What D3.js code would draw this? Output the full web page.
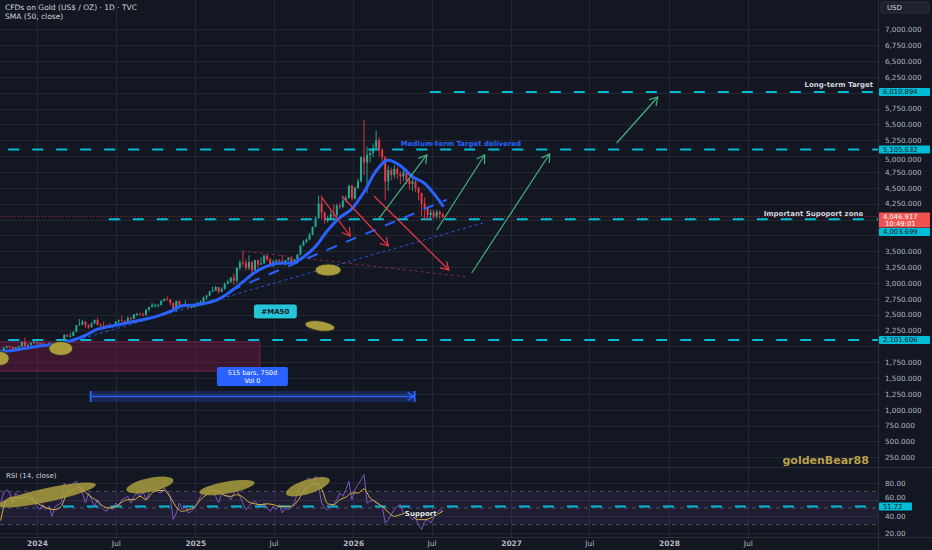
<!DOCTYPE html>
<html>
<head>
<meta charset="utf-8">
<script src="https://cdn.jsdelivr.net/npm/d3@7"></script>
<style>
  body { margin: 0; background: #131722; }
  svg { display: block; font-family: "DejaVu Sans", sans-serif; }
</style>
</head>
<body>
<div id="chart"></div>
<script>
// weekly candles (open = previous close)
var firstWeek = "2023-10-09";
var firstOpen = 1860;
var closes = [1930,1980,2000,1990,1940,1980,2000,2070,2005,2020,2050,2065,
  2045,2050,2030,2020,2040,2025,2015,2035,2080,2180,2155,2165,2230,2330,2345,2390,2335,2300,2360,2415,2335,2325,2295,2330,2320,2325,2390,2410,2400,2385,2445,2430,2505,2510,2500,2495,2580,2620,2655,2655,2655,2720,2745,2735,2685,2565,2715,2650,2635,2650,2620,2620,
  2640,2690,2700,2770,2800,2860,2880,2935,2860,2910,2985,3020,3085,3035,3235,3325,3320,3240,3330,3200,3360,3290,3310,3430,3370,3275,3335,3355,3350,3335,3360,3400,3335,3370,3450,3590,3645,3685,3760,3885,4020,4250,4110,4000,4000,4085,4065,4220,4200,4300,4340,4530,4330,
  4500,4600,4980,4900,5020,5050,5130,5250,5100,4980,4600,4780,4700,4800,4720,4680,4740,4620,4560,4600,4500,4420,4250,4180,4070,4110,4050,4120,4080,4047];
var highs = [1940,1985,2010,2010,1995,1990,2010,2075,2135,2045,2060,2085,
  2075,2060,2055,2040,2065,2045,2030,2040,2090,2195,2185,2220,2235,2335,2430,2420,2395,2350,2380,2425,2450,2365,2390,2340,2365,2335,2395,2425,2480,2410,2475,2460,2510,2530,2530,2530,2585,2625,2685,2670,2670,2725,2760,2790,2750,2690,2720,2720,2665,2725,2665,2640,
  2665,2700,2725,2785,2815,2880,2940,2955,2935,2930,3005,3055,3090,3150,3245,3360,3500,3370,3435,3345,3365,3365,3405,3450,3450,3400,3365,3375,3375,3440,3365,3410,3405,3380,3455,3600,3675,3705,3790,3890,4060,4380,4380,4130,4060,4140,4240,4250,4260,4350,4380,4550,4550,
  4520,4650,5000,5570,5150,5100,5200,5400,5300,5120,5000,4850,4820,4860,4830,4760,4790,4760,4660,4650,4620,4520,4420,4350,4200,4160,4150,4160,4150,4110];
var lows = [1850,1920,1970,1975,1930,1935,1975,1995,1990,1975,2015,2045,
  2015,2010,2000,2005,2015,2015,1985,2010,2025,2075,2145,2145,2160,2225,2325,2330,2290,2280,2295,2350,2325,2320,2285,2290,2315,2295,2320,2350,2395,2355,2385,2365,2430,2475,2490,2475,2485,2550,2615,2605,2615,2640,2705,2725,2645,2540,2565,2605,2630,2630,2585,2600,
  2605,2620,2670,2690,2730,2790,2855,2875,2835,2860,2890,2980,3000,2970,3000,3200,3260,3200,3205,3120,3200,3245,3290,3300,3340,3250,3250,3285,3310,3325,3270,3350,3330,3315,3365,3435,3580,3630,3680,3750,3880,4010,4000,3930,3950,3990,4010,4030,4160,4180,4270,4330,4300,
  4320,4480,4590,4700,4420,4900,4980,5100,5000,4920,4300,4450,4620,4650,4640,4560,4600,4560,4470,4450,4430,4300,4050,4000,3990,3990,4000,4010,4000,4020];

// SMA 50 read every 4th week
var smaWeeks = d3.range(0, 145, 4).concat([146]);
var smaValues = [1916,1936,1968,1998,2020,2055,2100,2173,2272,2313,2353,2391,2430,2480,2550,2640,2652,2684,2745,2866,
  3016,3170,3266,3311,3314,3410,3576,3832,4030,4170,4435,4766,4933,4848,4675,4570,4350,4220];

// RSI (weekly reading) and its MA (every second week)
var rsiValues = [56,68,72,68,56,68,62,60,63,68, 66,58,52,48,54,48,52,40,52,54, 56,80,72,76,80,82,76,68,56,68,
  60,52,60,52,48,46,52,48,56,52, 60,62,64,56,64,68,64,70,60,68, 76,72,69,68,74,70,64,36,44,56,
  48,52,44,46,50,56,64,68,70,76, 72,64,56,68,65,64,60,68,72,64, 56,48,52,56,58,54,52,56,50,46,
  52,48,54,44,50,48,51,56,68,76, 80,84,86,80,88,76,56,50,48,52, 54,60,68,64,72,82,60,72,78,84,
  90,56,58,60,56,54,52,32,36,42, 48,52,54,44,42,40,36,38,30,24, 34,36,32,38,44,48,46];
var rsiMaValues = [35,60,63,62,63,61,56,52,49,48, 52,68,72,75,69,63,58,52,50,52, 57,60,60,64,60,68,71,71,63,51,
  46,48,51,60,66,71,70,65,64,66, 63,57,55,54,55,54,52,52,52,58, 70,77,79,73,55,54,60,63,68,68,
  73,62,57,52,45,40,42,44,40,36, 36,38,42,46];

var priceTicks = d3.range(250, 7001, 250);
var rsiTicks = [80, 60, 40, 20];
var timeTicks = ["2024-01-01","2024-07-01","2025-01-01","2025-07-01","2026-01-01","2026-07-01","2027-01-01","2027-07-01","2028-01-01","2028-07-01"];
var timeLabels = ["2024","Jul","2025","Jul","2026","Jul","2027","Jul","2028","Jul"];

var levelValues = [6010.894, 5105.632, 4003.699, 2101.606];
var levelStarts = ["2026-06-27", "2023-09-01", "2024-06-15", "2023-09-01"];
var lastPrice = 4046.917;
var lastTime = "10:49:01";
var rsiLast = 51.72;
var rsiLevelStart = "2024-03-01";

// drawings, in date / price terms
var redArrows = [["2025-10-21",4340,"2025-12-25",3740],["2025-12-06",4371,"2026-03-23",3583],["2026-02-18",4371,"2026-08-10",3204]];
var greenArrows = [["2026-02-27",3993,"2026-06-20",5018],["2026-07-13",3835,"2026-11-01",5018],["2026-10-02",3157,"2027-03-31",5034],["2027-09-02",5207,"2027-12-06",5932]];
var trendBlue = ["2025-03-22",2877,"2026-08-05",4312];
var trendBlueThin = ["2024-04-02",2100,"2026-10-28",3945];
var trendMaroon = ["2025-04-19",3504,"2026-09-21",3094];
var priceMarkDates = ["2023-10-08","2024-02-25","2025-11-04","2025-10-16"];
var priceMarkValues = [1808,1966,3204,2321];
var rsiMarkDates = ["2024-01-24","2024-09-18","2025-03-15","2025-09-18"];
var rsiMarkValues = [65.6,77.6,74.5,75.5];

var W = 932, H = 550, axisX = 878, paneBottom = 467, rsiBottom = 537;
var parse = d3.utcParse("%Y-%m-%d");

var x = d3.scaleUtc().domain([parse("2024-01-01"), parse("2028-01-01")]).range([37, 669]);
var y = d3.scaleLinear().domain([250, 7000]).range([457.3, 29.3]);
var yr = d3.scaleLinear().domain([20, 80]).range([533, 483]);

var weekDates = closes.map(function(c, i){ return d3.utcDay.offset(parse(firstWeek), 7 * i); });
var candles = closes.map(function(c, i){
  return {d: weekDates[i], o: i ? closes[i-1] : firstOpen, h: highs[i], l: lows[i], c: c};
});

var svg = d3.select("#chart").append("svg").attr("width", W).attr("height", H);
svg.append("rect").attr("width", W).attr("height", H).attr("fill", "#131722");

var defs = svg.append("defs");
defs.append("clipPath").attr("id", "clipP").append("rect")
  .attr("x", 0).attr("y", 0).attr("width", axisX).attr("height", paneBottom);
defs.append("clipPath").attr("id", "clipR").append("rect")
  .attr("x", 0).attr("y", paneBottom).attr("width", axisX).attr("height", rsiBottom - paneBottom);

/* grid */
var grid = svg.append("g").attr("stroke", "#232734").attr("stroke-width", 1);
grid.selectAll(".hp").data(priceTicks).join("line")
  .attr("x1", 0).attr("x2", axisX)
  .attr("y1", function(d){ return Math.round(y(d)) + 0.5; })
  .attr("y2", function(d){ return Math.round(y(d)) + 0.5; });
grid.selectAll(".hr").data(rsiTicks).join("line")
  .attr("x1", 0).attr("x2", axisX)
  .attr("y1", function(d){ return Math.round(yr(d)) + 0.5; })
  .attr("y2", function(d){ return Math.round(yr(d)) + 0.5; });
grid.selectAll(".v").data(timeTicks).join("line")
  .attr("x1", function(d){ return Math.round(x(parse(d))) + 0.5; })
  .attr("x2", function(d){ return Math.round(x(parse(d))) + 0.5; })
  .attr("y1", 0).attr("y2", rsiBottom);

/* pane borders */
svg.append("line").attr("x1", 0).attr("x2", W).attr("y1", paneBottom + 0.5).attr("y2", paneBottom + 0.5).attr("stroke", "#2a2e39");
svg.append("line").attr("x1", 0).attr("x2", W).attr("y1", rsiBottom + 0.5).attr("y2", rsiBottom + 0.5).attr("stroke", "#2a2e39");
svg.append("line").attr("x1", axisX + 0.5).attr("x2", axisX + 0.5).attr("y1", 0).attr("y2", H).attr("stroke", "#2a2e39");

/* ---------- price pane ---------- */
var pane = svg.append("g").attr("clip-path", "url(#clipP)");

// red box zone under the 2024 base
pane.append("rect")
  .attr("x", x(parse("2023-09-01"))).attr("y", y(2069))
  .attr("width", x(parse("2025-05-30")) - x(parse("2023-09-01")))
  .attr("height", y(1611) - y(2069))
  .attr("fill", "rgba(150,25,75,0.32)").attr("stroke", "#7c2349").attr("stroke-width", 1);

// date range measure
var r0 = x(parse("2024-05-04")), r1 = x(parse("2026-05-23")), ry = y(1209);
pane.append("rect").attr("x", r0).attr("y", ry - 5.5).attr("width", r1 - r0).attr("height", 11)
  .attr("fill", "rgba(41,98,255,0.22)");
var rg = pane.append("g").attr("stroke", "#2962ff").attr("stroke-width", 1.5).attr("fill", "none");
rg.append("line").attr("x1", r0).attr("x2", r1).attr("y1", ry).attr("y2", ry);
rg.append("line").attr("x1", r0).attr("x2", r0).attr("y1", ry - 5.5).attr("y2", ry + 5.5).attr("stroke-width", 2);
rg.append("line").attr("x1", r1).attr("x2", r1).attr("y1", ry - 5.5).attr("y2", ry + 5.5).attr("stroke-width", 2);
rg.append("path").attr("d", "M" + (r1 - 7) + "," + (ry - 4) + "L" + (r1 - 1) + "," + ry + "L" + (r1 - 7) + "," + (ry + 4));

// horizontal levels
pane.selectAll(".lvl").data(levelValues).join("line")
  .attr("x1", function(d, i){ return x(parse(levelStarts[i])); })
  .attr("x2", axisX)
  .attr("y1", function(d){ return y(d); }).attr("y2", function(d){ return y(d); })
  .attr("stroke", "#00bcd4").attr("stroke-width", 2).attr("stroke-dasharray", "11,13");

// last price line
pane.append("line").attr("x1", 0).attr("x2", axisX).attr("y1", y(lastPrice)).attr("y2", y(lastPrice))
  .attr("stroke", "#f23645").attr("stroke-opacity", 0.6).attr("stroke-dasharray", "1,2");

function seg(a, col, w, dash, op){
  pane.append("line")
    .attr("x1", x(parse(a[0]))).attr("y1", y(a[1]))
    .attr("x2", x(parse(a[2]))).attr("y2", y(a[3]))
    .attr("stroke", col).attr("stroke-width", w).attr("stroke-dasharray", dash).attr("stroke-opacity", op);
}
seg(trendBlueThin, "#2962ff", 1, "3,3", 0.85);
seg(trendMaroon, "#8c2a4f", 1, "3,3", 0.9);

// candles
var cg = pane.append("g");
cg.selectAll(".wick").data(candles).join("line")
  .attr("x1", function(d){ return x(d.d); }).attr("x2", function(d){ return x(d.d); })
  .attr("y1", function(d){ return y(d.h); }).attr("y2", function(d){ return y(d.l); })
  .attr("stroke", function(d){ return d.c >= d.o ? "#22ab94" : "#f23645"; })
  .attr("stroke-width", 0.9);
cg.selectAll(".body").data(candles).join("rect")
  .attr("x", function(d){ return x(d.d) - 1; })
  .attr("y", function(d){ return y(Math.max(d.o, d.c)); })
  .attr("width", 2)
  .attr("height", function(d){ return Math.max(1, Math.abs(y(d.o) - y(d.c))); })
  .attr("fill", function(d){ return d.c >= d.o ? "#22ab94" : "#f23645"; });

// SMA 50
pane.append("path")
  .datum(smaWeeks.map(function(w, i){ return [weekDates[w], smaValues[i]]; }))
  .attr("fill", "none").attr("stroke", "#2962ff").attr("stroke-width", 3).attr("stroke-linecap", "round")
  .attr("d", d3.line().curve(d3.curveMonotoneX)
    .x(function(d){ return x(d[0]); }).y(function(d){ return y(d[1]); }));

seg(trendBlue, "#2962ff", 2, "11,10", 1);

// arrows
function arrow(a, col){
  var x1 = x(parse(a[0])), y1 = y(a[1]), x2 = x(parse(a[2])), y2 = y(a[3]);
  var ang = Math.atan2(y2 - y1, x2 - x1), L = 9;
  var g = pane.append("g").attr("stroke", col).attr("stroke-width", 1.2).attr("fill", "none");
  g.append("line").attr("x1", x1).attr("y1", y1).attr("x2", x2).attr("y2", y2);
  g.append("path").attr("d",
    "M" + (x2 + L * Math.cos(ang + 2.6)) + "," + (y2 + L * Math.sin(ang + 2.6)) +
    "L" + x2 + "," + y2 +
    "L" + (x2 + L * Math.cos(ang - 2.6)) + "," + (y2 + L * Math.sin(ang - 2.6)));
}
redArrows.forEach(function(a){ arrow(a, "#f23645"); });
greenArrows.forEach(function(a){ arrow(a, "#43b07e"); });

// marked ellipses
var markSize = [[9,7,0],[12,7,0],[13,6,0],[15,5,8]];
priceMarkDates.forEach(function(d, i){
  var cx = x(parse(d)), cy = y(priceMarkValues[i]);
  pane.append("ellipse").attr("cx", cx).attr("cy", cy)
    .attr("rx", markSize[i][0]).attr("ry", markSize[i][1])
    .attr("transform", "rotate(" + markSize[i][2] + "," + cx + "," + cy + ")")
    .attr("fill", "#a99c3d").attr("stroke", "#2e2d22").attr("stroke-width", 1);
});

// labels in the price pane
var ma = pane.append("g").attr("transform", "translate(" + x(parse("2025-07-05")) + "," + y(2550) + ")");
ma.append("rect").attr("x", -22).attr("y", -7.5).attr("width", 44).attr("height", 15).attr("rx", 3)
  .attr("fill", "#26c6da").attr("stroke", "#0b0e14").attr("stroke-width", 1);
ma.append("text").attr("text-anchor", "middle").attr("y", 2.5).attr("font-size", 7).attr("font-weight", "bold")
  .attr("fill", "#131722").text("#MA50");

var bx = pane.append("g").attr("transform", "translate(" + x(parse("2025-05-13")) + "," + y(1525) + ")");
bx.append("rect").attr("x", -35.5).attr("y", -9.5).attr("width", 71).attr("height", 19).attr("rx", 2).attr("fill", "#2962ff");
bx.append("text").attr("text-anchor", "middle").attr("y", -1.5).attr("font-size", 6.5).attr("fill", "#ffffff").text("515 bars, 750d");
bx.append("text").attr("text-anchor", "middle").attr("y", 6.5).attr("font-size", 6.5).attr("fill", "#ffffff").text("Vol 0");

pane.append("text").attr("x", x(parse("2029-04-17"))).attr("y", y(levelValues[0]) - 5)
  .attr("text-anchor", "end").attr("font-size", 7).attr("font-weight", "bold").attr("fill", "#d1d4dc").text("Long-term Target");
pane.append("text").attr("x", x(parse("2026-04-21"))).attr("y", y(levelValues[1]) - 3.5)
  .attr("font-size", 7).attr("font-weight", "bold").attr("fill", "#2962ff").text("Medium-term Target delivered");
pane.append("text").attr("x", x(parse("2029-03-25"))).attr("y", y(levelValues[2]) - 3)
  .attr("text-anchor", "end").attr("font-size", 7).attr("font-weight", "bold").attr("fill", "#d1d4dc").text("Important Supoport zone");
pane.append("text").attr("x", x(parse("2029-04-07"))).attr("y", y(145))
  .attr("text-anchor", "end").attr("font-size", 11).attr("font-weight", "bold").attr("fill", "#b9a04c").text("goldenBear88");

/* ---------- RSI pane ---------- */
var rp = svg.append("g").attr("clip-path", "url(#clipR)");
rp.append("rect").attr("x", 0).attr("width", axisX).attr("y", yr(70)).attr("height", yr(30) - yr(70))
  .attr("fill", "rgba(126,87,194,0.1)");
rp.selectAll(".band").data([70, 50, 30]).join("line")
  .attr("x1", 0).attr("x2", axisX)
  .attr("y1", function(d){ return yr(d); }).attr("y2", function(d){ return yr(d); })
  .attr("stroke", "#787b86").attr("stroke-opacity", 0.55).attr("stroke-dasharray", "4,4");
rp.append("line").attr("x1", x(parse(rsiLevelStart))).attr("x2", axisX).attr("y1", yr(rsiLast)).attr("y2", yr(rsiLast))
  .attr("stroke", "#00bcd4").attr("stroke-width", 2).attr("stroke-dasharray", "11,13");

rp.append("path").datum(rsiValues)
  .attr("fill", "none").attr("stroke", "#7e57c2").attr("stroke-width", 1)
  .attr("d", d3.line().x(function(d, i){ return x(weekDates[i]); }).y(function(d){ return yr(d); }));
rp.append("path").datum(rsiMaValues)
  .attr("fill", "none").attr("stroke", "#d9b43c").attr("stroke-width", 1)
  .attr("d", d3.line().curve(d3.curveMonotoneX)
    .x(function(d, i){ return x(weekDates[i * 2]); }).y(function(d){ return yr(d); }));

var rsiSize = [[50,7,-12],[24,7,-12],[28,6,-10],[23,7,-18]];
rsiMarkDates.forEach(function(d, i){
  var cx = x(parse(d)), cy = yr(rsiMarkValues[i]);
  rp.append("ellipse").attr("cx", cx).attr("cy", cy)
    .attr("rx", rsiSize[i][0]).attr("ry", rsiSize[i][1])
    .attr("transform", "rotate(" + rsiSize[i][2] + "," + cx + "," + cy + ")")
    .attr("fill", "#a99c3d").attr("fill-opacity", 0.85);
});
rp.append("text").attr("x", x(parse("2026-06-06"))).attr("y", yr(44) + 2.5).attr("text-anchor", "middle")
  .attr("font-size", 7).attr("font-weight", "bold").attr("fill", "#e8e8e8")
  .attr("stroke", "#131722").attr("stroke-width", 1.5).attr("paint-order", "stroke").text("Support");

/* ---------- texts and axes ---------- */
svg.append("text").attr("x", 5).attr("y", 10).attr("font-size", 7.5).attr("fill", "#d1d4dc")
  .text("CFDs on Gold (US$ / OZ) \u00b7 1D \u00b7 TVC");
svg.append("text").attr("x", 5).attr("y", 19).attr("font-size", 7.5).attr("fill", "#d1d4dc").text("SMA (50, close)");
svg.append("text").attr("x", 6).attr("y", 478).attr("font-size", 7).attr("fill", "#d1d4dc").text("RSI (14, close)");

// tag centres on the axis; the support tag sits under the last-price box
var lp = y(lastPrice);
var tagYs = levelValues.map(function(v){
  var cy = y(v);
  return Math.abs(cy - lp) < 16 ? lp + 15.5 : cy;
});
var blockYs = tagYs.concat([lp, lp + 7]);

// tick labels: hide the ones under a tag, nudge the ones that touch it
function tickPos(py, blocks){
  var off = 0, hidden = false;
  blocks.forEach(function(t){
    var dist = py - t;
    if (Math.abs(dist) < 6.5) hidden = true;
    else if (Math.abs(dist) < 9.5) off = (dist > 0 ? 1 : -1) * (9.5 - Math.abs(dist));
  });
  return hidden ? null : off;
}

var fmt = d3.format(",.3f");
var shownTicks = priceTicks.filter(function(v){ return tickPos(y(v), blockYs) !== null; });
svg.append("g").attr("transform", "translate(" + axisX + ",0)")
  .call(d3.axisRight(y).tickValues(shownTicks).tickFormat(fmt).tickSize(0).tickPadding(7))
  .call(function(g){ g.select(".domain").remove(); })
  .selectAll("text").attr("fill", "#b2b5be").attr("font-size", 7.2).attr("font-family", "DejaVu Sans")
  .attr("y", function(d){ return tickPos(y(d), blockYs); });

svg.append("g").attr("transform", "translate(" + axisX + ",0)")
  .call(d3.axisRight(yr).tickValues(rsiTicks).tickFormat(d3.format(".2f")).tickSize(0).tickPadding(7))
  .call(function(g){ g.select(".domain").remove(); })
  .selectAll("text").attr("fill", "#b2b5be").attr("font-size", 7.2).attr("font-family", "DejaVu Sans")
  .attr("y", function(d){ return tickPos(yr(d), [yr(rsiLast)]) || 0; });

svg.append("g").attr("transform", "translate(0," + rsiBottom + ")")
  .call(d3.axisBottom(x).tickValues(timeTicks.map(parse)).tickFormat(function(d, i){ return timeLabels[i]; })
    .tickSize(0).tickPadding(4))
  .call(function(g){ g.select(".domain").remove(); })
  .selectAll("text").attr("fill", "#b2b5be").attr("font-size", 7.5).attr("font-family", "DejaVu Sans")
  .attr("font-weight", function(d, i){ return timeLabels[i] === "Jul" ? "normal" : "bold"; });

// price tags on the axis
function tag(cy, txt, fill, col, w){
  var g = svg.append("g");
  g.append("rect").attr("x", axisX + 1).attr("y", cy - 4).attr("width", w).attr("height", 8).attr("rx", 1).attr("fill", fill);
  g.append("text").attr("x", axisX + 5).attr("y", cy + 2.4).attr("font-size", 6.8).attr("fill", col).text(txt);
}
svg.append("rect").attr("x", axisX + 1).attr("y", lp - 4).attr("width", 51).attr("height", 15).attr("rx", 1).attr("fill", "#ef5350");
svg.append("text").attr("x", axisX + 5).attr("y", lp + 2.4).attr("font-size", 6.8).attr("fill", "#ffffff").text(fmt(lastPrice));
svg.append("text").attr("x", axisX + 7).attr("y", lp + 9.2).attr("font-size", 6.8).attr("fill", "#ffffff").text(lastTime);
levelValues.forEach(function(v, i){ tag(tagYs[i], fmt(v), "#00bcd4", "#131722", 51); });
tag(yr(rsiLast), d3.format(".2f")(rsiLast), "#00bcd4", "#131722", 33);

// currency box
svg.append("rect").attr("x", 881).attr("y", 2).attr("width", 48).attr("height", 11).attr("rx", 2).attr("fill", "#1e222d").attr("stroke", "#2a2e39");
svg.append("text").attr("x", 887).attr("y", 10.3).attr("font-size", 7).attr("fill", "#d1d4dc").text("USD");
</script>
</body>
</html>
